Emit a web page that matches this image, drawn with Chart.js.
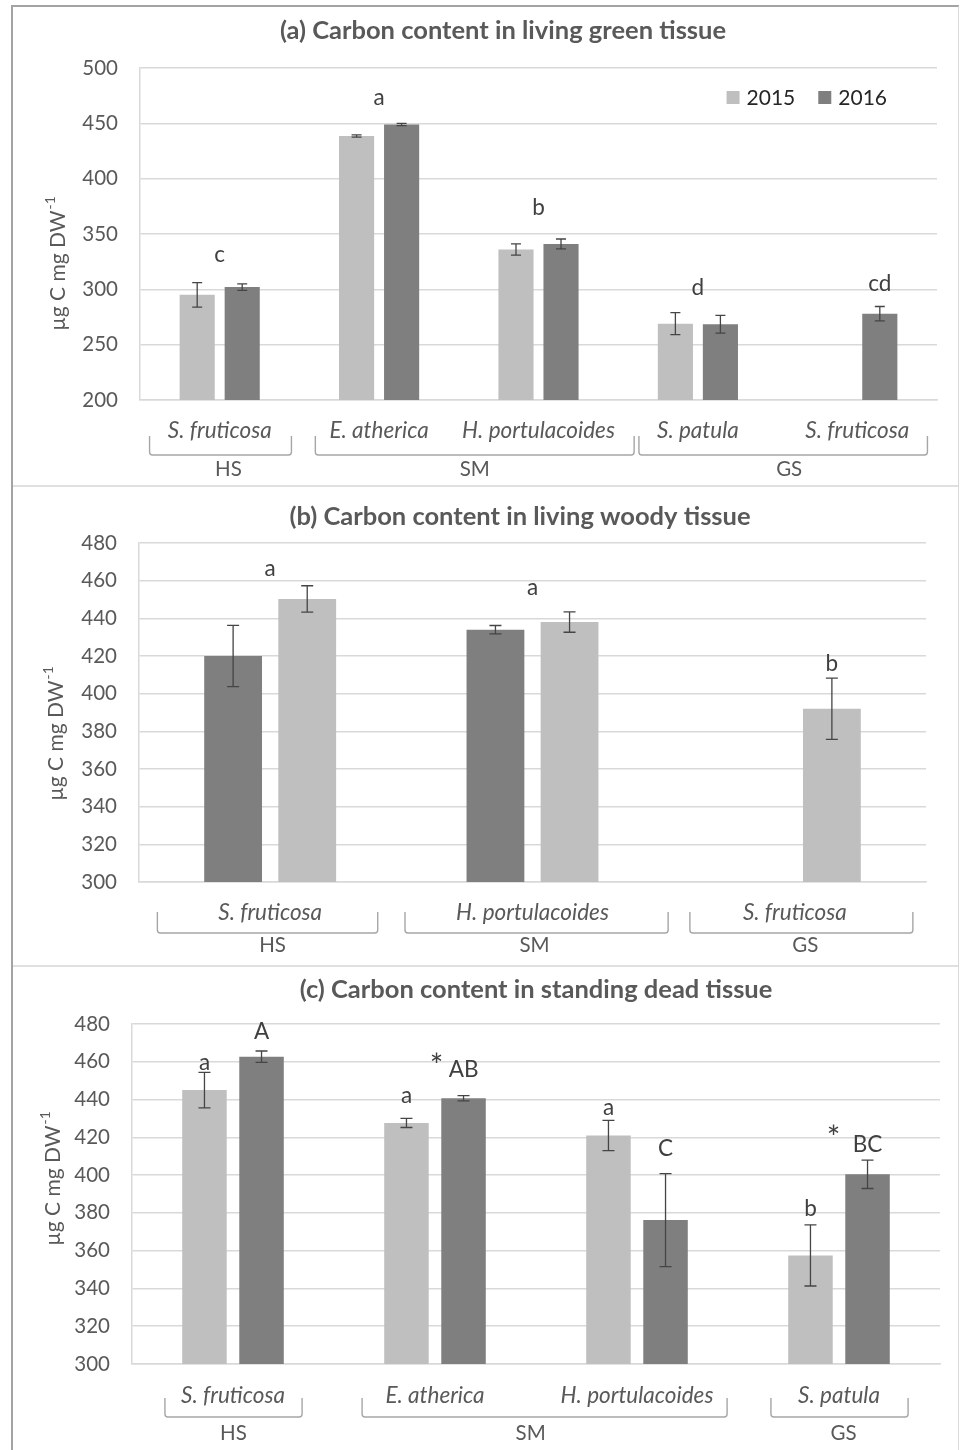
<!DOCTYPE html>
<html>
<head>
<meta charset="utf-8">
<script src="https://cdn.jsdelivr.net/npm/chart.js@4.4.1/dist/chart.umd.min.js"></script>
<style>
body { margin: 0; background: #fff; }
#page { position: relative; width: 961px; height: 1450px; overflow: hidden; }
.frame { position: absolute; left: 11px; top: 5px; width: 945px; height: 1450px;
  border-left: 2px solid #a3a3a3; border-top: 2px solid #a3a3a3; border-right: 1px solid #d9d9d9; }
.sep { position: absolute; left: 13px; width: 945px; height: 2px; background: #e0e0e0; }
canvas { position: absolute; left: 0; }
</style>
</head>
<body>
<div id="page">
  <div class="frame"></div>
  <div class="sep" style="top:485px"></div>
  <div class="sep" style="top:965px"></div>
  <canvas id="green" width="961" height="485" style="top:0px"></canvas>
  <canvas id="woody" width="961" height="478" style="top:487px"></canvas>
  <canvas id="dead" width="961" height="483" style="top:967px"></canvas>
</div>
<script>
// (a) living green tissue
const greenCats = ['S. fruticosa', 'E. atherica', 'H. portulacoides', 'S. patula', 'S. fruticosa'];
const greenSites = ['HS', 'SM', 'SM', 'GS', 'GS'];
const green2015 = [295, 438.6, 336, 269, null];
const green2015Err = [11, 1, 5, 10, null];
const green2016 = [302, 449, 341, 268.5, 278];
const green2016Err = [3, 1, 4.5, 8, 6.5];
const greenTicks = [200, 500, 50];
const greenSig = [
  {cat: 0, text: 'c', y: 331},
  {cat: 1, text: 'a', y: 473},
  {cat: 2, text: 'b', y: 374},
  {cat: 3, text: 'd', y: 301},
  {cat: 4, bar: 1, text: 'cd', y: 305}
];

// (b) living woody tissue (darker bars drawn first)
const woodyCats = ['S. fruticosa', 'H. portulacoides', 'S. fruticosa'];
const woodySites = ['HS', 'SM', 'GS'];
const woodyDark = [420, 434, null];
const woodyDarkErr = [16.3, 2.2, null];
const woodyLight = [450.3, 438, 392];
const woodyLightErr = [7, 5.4, 16.3];
const woodyTicks = [300, 480, 20];
const woodySig = [
  {cat: 0, text: 'a', y: 466.5},
  {cat: 1, text: 'a', y: 456},
  {cat: 2, bar: 1, text: 'b', y: 415.7}
];

// (c) standing dead tissue
const deadCats = ['S. fruticosa', 'E. atherica', 'H. portulacoides', 'S. patula'];
const deadSites = ['HS', 'SM', 'SM', 'GS'];
const dead2015 = [445, 427.6, 421, 357.5];
const dead2015Err = [9.4, 2.4, 8, 16.2];
const dead2016 = [462.7, 440.7, 376.2, 400.4];
const dead2016Err = [3, 1.4, 24.6, 7.5];
const deadTicks = [300, 480, 20];
const deadSig = [
  {cat: 0, bar: 0, text: 'a', y: 459.7},
  {cat: 0, bar: 1, text: 'A', y: 475.8},
  {cat: 1, bar: 0, text: 'a', y: 442.2},
  {cat: 1, bar: 1, text: 'AB', y: 455.6},
  {cat: 1, bar: 1, text: '*', y: 462.4, star: true, dx: -27},
  {cat: 2, bar: 0, text: 'a', y: 435.9},
  {cat: 2, bar: 1, text: 'C', y: 413.8},
  {cat: 3, bar: 0, text: 'b', y: 382},
  {cat: 3, bar: 1, text: 'BC', y: 415.9},
  {cat: 3, bar: 1, text: '*', y: 423.9, star: true, dx: -34}
];

const LIGHT = '#bfbfbf', DARK = '#7f7f7f', TXT = '#595959', GRID = '#d9d9d9';

// group spans (first, last category) from the site list
function siteGroups(sites) {
  const out = [];
  sites.forEach((s, i) => {
    if (out.length && out[out.length - 1].name === s) out[out.length - 1].to = i;
    else out.push({name: s, from: i, to: i});
  });
  return out;
}

function panelPlugin(p) {
  return {
    id: 'panel_' + p.id,
    afterDatasetsDraw(chart) {
      const ctx = chart.ctx, xs = chart.scales.x, ys = chart.scales.y, area = chart.chartArea;
      ctx.save();

      // title
      ctx.textAlign = 'center';
      ctx.textBaseline = 'middle';
      ctx.fillStyle = TXT;
      ctx.font = 'bold 25.5px Lato';
      ctx.fillText(p.title, p.titleAt[0], p.titleAt[1]);

      // error bars
      ctx.strokeStyle = '#454545';
      ctx.lineWidth = 1.3;
      chart.data.datasets.forEach((ds, di) => {
        const meta = chart.getDatasetMeta(di);
        ds.data.forEach((v, i) => {
          if (v == null) return;
          const e = ds.errors[i];
          const bx = meta.data[i].x;
          const t = ys.getPixelForValue(v + e), b = ys.getPixelForValue(v - e);
          ctx.beginPath();
          ctx.moveTo(bx, t); ctx.lineTo(bx, b);
          ctx.moveTo(bx - p.cap, t); ctx.lineTo(bx + p.cap, t);
          ctx.moveTo(bx - p.cap, b); ctx.lineTo(bx + p.cap, b);
          ctx.stroke();
        });
      });

      // significance letters
      ctx.fillStyle = '#404040';
      p.sig.forEach(s => {
        let sx = s.bar == null ? xs.getPixelForValue(s.cat) : chart.getDatasetMeta(s.bar).data[s.cat].x;
        sx += s.dx || 0;
        ctx.font = s.star ? '32px Lato' : '22.5px Lato';
        ctx.fillText(s.text, sx, ys.getPixelForValue(s.y) + (s.star ? 9 : 0));
      });

      // site brackets under the category labels
      const cw = xs.getPixelForValue(1) - xs.getPixelForValue(0);
      ctx.strokeStyle = '#a6a6a6';
      ctx.lineWidth = 1.4;
      ctx.fillStyle = TXT;
      ctx.font = '20.5px Lato';
      siteGroups(p.sites).forEach((g, k) => {
        const x1 = xs.getPixelForValue(g.from) + p.brackets[k][0] * cw;
        const x2 = xs.getPixelForValue(g.to) + p.brackets[k][1] * cw;
        const top = area.bottom + p.brTop, bot = area.bottom + p.brBot, r = 3;
        ctx.beginPath();
        ctx.moveTo(x1, top);
        ctx.lineTo(x1, bot - r);
        ctx.quadraticCurveTo(x1, bot, x1 + r, bot);
        ctx.lineTo(x2 - r, bot);
        ctx.quadraticCurveTo(x2, bot, x2, bot - r);
        ctx.lineTo(x2, top);
        ctx.stroke();
        ctx.fillText(g.name, (x1 + x2) / 2 + (p.siteDx ? p.siteDx[k] : 0), area.bottom + p.siteY);
      });

      // y axis title with superscript
      ctx.save();
      ctx.translate(p.yTitle[0], p.yTitle[1]);
      ctx.rotate(-Math.PI / 2);
      const main = 'µg C mg DW', sup = '-1';
      ctx.font = '21px Lato';
      const w1 = ctx.measureText(main).width;
      ctx.font = '14px Lato';
      const w2 = ctx.measureText(sup).width;
      const start = -(w1 + w2) / 2;
      ctx.textAlign = 'left';
      ctx.fillStyle = TXT;
      ctx.font = '21px Lato';
      ctx.fillText(main, start, 0);
      ctx.font = '14px Lato';
      ctx.fillText(sup, start + w1 + 1, -8);
      ctx.restore();

      // legend inside the plot (panel a only)
      if (p.legend) {
        ctx.font = '21px Lato';
        ctx.textAlign = 'left';
        const items = chart.data.datasets.map(d => ({label: d.label, color: d.backgroundColor, w: ctx.measureText(d.label).width}));
        let total = 0;
        items.forEach((it, i) => { total += 13 + 7 + it.w + (i < items.length - 1 ? 23 : 0); });
        let lx = area.right - 50 - total;
        const ly = area.top + 29;
        items.forEach(it => {
          ctx.fillStyle = it.color;
          ctx.fillRect(lx, ly - 6, 13, 13);
          ctx.fillStyle = '#262626';
          ctx.fillText(it.label, lx + 20, ly + 1);
          lx += 13 + 7 + it.w + 23;
        });
      }
      ctx.restore();
    }
  };
}

function makeChart(p) {
  new Chart(document.getElementById(p.id), {
    type: 'bar',
    data: {
      labels: p.cats,
      datasets: p.series.map(s => ({
        label: s.label, data: s.data, errors: s.err, backgroundColor: s.color,
        categoryPercentage: 0.565, barPercentage: 0.78
      }))
    },
    options: {
      responsive: false,
      animation: false,
      layout: {padding: {left: 0, right: p.padR, top: p.padT, bottom: 0}},
      plugins: {
        legend: {display: false},
        tooltip: {enabled: false},
        title: {display: false}
      },
      scales: {
        x: {
          grid: {display: false, drawTicks: false},
          border: {color: GRID, width: 1.5},
          ticks: {color: TXT, font: {family: 'Lato', size: 22.5, style: 'italic'}, padding: p.xPad,
                  maxRotation: 0, minRotation: 0, autoSkip: false},
          afterFit: s => { s.height = p.xH; }
        },
        y: {
          min: p.ticks[0], max: p.ticks[1],
          grid: {color: GRID, lineWidth: 1.5, drawTicks: false},
          border: {color: GRID, width: 1.5},
          ticks: {stepSize: p.ticks[2], color: TXT, font: {family: 'Lato', size: 20.5}, padding: 22},
          afterFit: s => { s.width = p.yW; }
        }
      }
    },
    plugins: [panelPlugin(p)]
  });
}

makeChart({
  id: 'green', title: '(a) Carbon content in living green tissue', titleAt: [503, 31],
  cats: greenCats, sites: greenSites, ticks: greenTicks, sig: greenSig,
  series: [
    {label: '2015', data: green2015, err: green2015Err, color: LIGHT},
    {label: '2016', data: green2016, err: green2016Err, color: DARK}
  ],
  yW: 140, padR: 24, padT: 68, xH: 85, xPad: 17.5,
  brackets: [[-0.44, 0.45], [-0.40, 0.60], [-0.37, 0.44]], brTop: 36, brBot: 55, siteY: 69,
  siteDx: [8, 0, 6],
  yTitle: [58, 264], cap: 5, legend: true
});

makeChart({
  id: 'woody', title: '(b) Carbon content in living woody tissue', titleAt: [520, 30],
  cats: woodyCats, sites: woodySites, ticks: woodyTicks, sig: woodySig,
  series: [
    {label: '2016', data: woodyDark, err: woodyDarkErr, color: DARK},
    {label: '2015', data: woodyLight, err: woodyLightErr, color: LIGHT}
  ],
  yW: 139, padR: 35, padT: 56, xH: 83, xPad: 17.5,
  brackets: [[-0.43, 0.41], [-0.486, 0.517], [-0.40, 0.45]], brTop: 30, brBot: 51, siteY: 63,
  siteDx: [5, -2, 4],
  yTitle: [56, 247], cap: 6, legend: false
});

makeChart({
  id: 'dead', title: '(c) Carbon content in standing dead tissue', titleAt: [536, 23],
  cats: deadCats, sites: deadSites, ticks: deadTicks, sig: deadSig,
  series: [
    {label: '2015', data: dead2015, err: dead2015Err, color: LIGHT},
    {label: '2016', data: dead2016, err: dead2016Err, color: DARK}
  ],
  yW: 132, padR: 21, padT: 57, xH: 86, xPad: 18.5,
  brackets: [[-0.337, 0.342], [-0.361, 0.446], [-0.337, 0.342]], brTop: 34, brBot: 53, siteY: 69,
  siteDx: [0, -14, 4],
  yTitle: [53, 212], cap: 6, legend: false
});
</script>
</body>
</html>
